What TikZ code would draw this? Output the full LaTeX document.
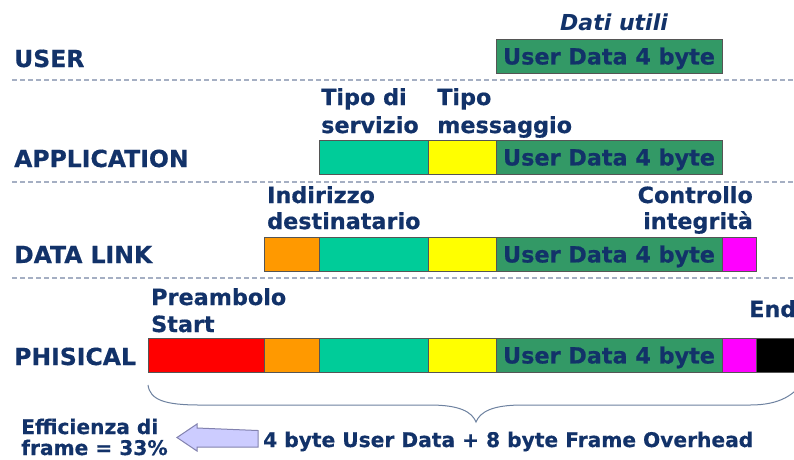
\documentclass[tikz,border=0pt]{standalone}
\usepackage{fontspec}
\setmainfont{DejaVu Sans}[BoldFeatures={FakeBold=0.5}]
\definecolor{navy}{RGB}{18,50,105}
\definecolor{boxline}{RGB}{85,85,85}
\definecolor{dashc}{RGB}{165,175,195}
\definecolor{tealc}{RGB}{0,204,153}
\definecolor{yellowc}{RGB}{255,255,0}
\definecolor{greenc}{RGB}{51,153,102}
\definecolor{orangec}{RGB}{255,153,0}
\definecolor{redc}{RGB}{255,0,0}
\definecolor{magc}{RGB}{255,0,255}
\definecolor{arrowfill}{RGB}{204,204,255}
\definecolor{arrowline}{RGB}{130,130,175}
\definecolor{bracec}{RGB}{110,130,160}
\begin{document}
\begin{tikzpicture}[x=1pt,y=-1pt,
  lbl/.style={font=\bfseries\fontsize{22.3}{24}\selectfont, text=navy, inner sep=0pt, anchor=base west},
  layer/.style={lbl, font=\bfseries\fontsize{23.5}{26}\selectfont},
  lbr/.style={lbl, anchor=base east},
  small/.style={font=\bfseries\fontsize{20.2}{22}\selectfont, text=navy, inner sep=0pt, anchor=base west},
  seg/.style={draw=boxline, line width=0.9pt, inner sep=0pt, outer sep=0pt, anchor=north west, minimum height=34pt},
  data/.style={seg, fill=greenc, minimum width=226pt, font=\bfseries\fontsize{22.3}{24}\selectfont, text=navy, text depth=0pt},
  sep/.style={draw=dashc, line width=1.5pt, dash pattern=on 5pt off 3pt},
  brace/.style={draw=bracec, line width=1pt},
  hollow/.style={draw=arrowline, fill=arrowfill, line width=1pt}
]
\useasboundingbox (0,0) rectangle (794,459);
\fill[white] (0,0) rectangle (794,459);

% separators
\coordinate (s1a) at (12,80);  \coordinate (s1b) at (794,80);
\coordinate (s2a) at (12,182); \coordinate (s2b) at (794,182);
\coordinate (s3a) at (12,278); \coordinate (s3b) at (794,278);
\draw[sep] (s1a) -- (s1b);
\draw[sep] (s2a) -- (s2b);
\draw[sep] (s3a) -- (s3b);

% layer labels
\node[layer] (luser) at (14,67) {USER};
\node[layer] (lapp) at (14,167) {APPLICATION};
\node[layer] (ldl) at (14,263) {DATA LINK};
\node[layer] (lphy) at (14,365) {PHISICAL};

% USER row
\node[lbl, font=\bfseries\itshape\fontsize{22}{24}\selectfont, anchor=base] (dati) at (614,30) {Dati utili};
\node[data] (u1) at (496,39) {User Data 4 byte};

% APPLICATION row
\node[lbl] (tipo1) at (321,105) {Tipo di};
\node[lbl] (tipo2) at (321,133) {servizio};
\node[lbl] (msg1) at (437,105) {Tipo};
\node[lbl] (msg2) at (437,133) {messaggio};
\node[seg, fill=tealc, minimum width=109pt] (a1) at (319,140) {};
\node[seg, fill=yellowc, minimum width=68pt] (a2) at (428,140) {};
\node[data] (a3) at (496,140) {User Data 4 byte};

% DATA LINK row
\node[lbl] (ind1) at (267,203) {Indirizzo};
\node[lbl] (ind2) at (267,229) {destinatario};
\node[lbr] (ctl1) at (753,203) {Controllo};
\node[lbr] (ctl2) at (753,229) {integrità};
\node[seg, fill=orangec, minimum width=55pt] (d0) at (264,237) {};
\node[seg, fill=tealc, minimum width=109pt] (d1) at (319,237) {};
\node[seg, fill=yellowc, minimum width=68pt] (d2) at (428,237) {};
\node[data] (d3) at (496,237) {User Data 4 byte};
\node[seg, fill=magc, minimum width=34pt] (d4) at (722,237) {};

% PHYSICAL row
\node[lbl] (pre1) at (151,305) {Preambolo};
\node[lbl] (pre2) at (151,332) {Start};
\node[lbl] (endl) at (749,317) {End};
\node[seg, fill=redc, minimum width=116pt] (p0) at (148,338) {};
\node[seg, fill=orangec, minimum width=55pt] (p1) at (264,338) {};
\node[seg, fill=tealc, minimum width=109pt] (p2) at (319,338) {};
\node[seg, fill=yellowc, minimum width=68pt] (p3) at (428,338) {};
\node[data] (p4) at (496,338) {User Data 4 byte};
\node[seg, fill=magc, minimum width=34pt] (p5) at (722,338) {};
\node[seg, fill=black, minimum width=50pt] (p6) at (756,338) {};

% brace
\coordinate (bl) at (148,385);
\coordinate (bm) at (476,422);
\coordinate (br) at (806,378);
\draw[brace] (bl) .. controls (150,400) and (165,405) .. (200,405)
  -- (430,405) .. controls (460,405) and (472,412) .. (bm)
  .. controls (480,412) and (492,405) .. (522,405)
  -- (750,405) .. controls (780,405) and (795,395) .. (br);

% bottom
\node[small] (eff1) at (21,434) {Efficienza di};
\node[small] (eff2) at (21,455) {frame = 33\%};
\node[small] (over) at (263,447) {4 byte User Data + 8 byte Frame Overhead};
\draw[hollow] (over.west) ++(-5,-3) coordinate (ar)
  -- ++(0,-8) -- (197,428) -- (197,424) -- (177,437.5) -- (197,451) -- (197,447) -- (258,447) -- cycle;
\end{tikzpicture}
\end{document}
